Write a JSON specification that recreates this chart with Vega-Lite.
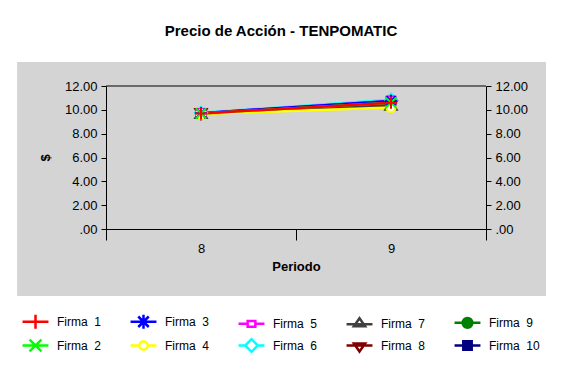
{
  "$schema": "https://vega.github.io/schema/vega-lite/v6.json",
  "autosize": {"type": "none"},
  "width": 380,
  "height": 143,
  "padding": {"left": 106, "top": 86, "right": 76, "bottom": 143},
  "background": "white",
  "config": {
    "view": {"stroke": null},
    "font": "Liberation Sans",
    "axis": {"labelFont": "Liberation Sans", "labelFontSize": 13, "labelColor": "black", "titleFont": "Liberation Sans", "titleFontSize": 13, "titleColor": "black", "titleFontWeight": "bold", "domainColor": "black", "tickColor": "black", "grid": false},
    "legend": {"zindex": 1, "orient": "none", "legendX": -79, "legendY": 227, "columns": 5, "gridAlign": "all", "columnPadding": 17, "rowPadding": 0, "padding": 0,
      "symbolSize": 196, "symbolStrokeWidth": 2.5, "labelOffset": 13, "labelFont": "Liberation Sans", "labelFontSize": 12, "labelColor": "black"}
  },
  "title": {"text": "Precio de Acción - TENPOMATIC", "frame": "group", "anchor": "middle", "offset": 23, "dx": -15, "fontSize": 15, "font": "Liberation Sans", "fontWeight": "bold", "color": "black"},
  "datasets": {
    "precios": [
      {"firma": 10, "periodo": 8, "precio": 9.7}, {"firma": 10, "periodo": 9, "precio": 10.7},
      {"firma": 9, "periodo": 8, "precio": 9.7}, {"firma": 9, "periodo": 9, "precio": 10.55},
      {"firma": 8, "periodo": 8, "precio": 9.68}, {"firma": 8, "periodo": 9, "precio": 10.35},
      {"firma": 7, "periodo": 8, "precio": 9.7}, {"firma": 7, "periodo": 9, "precio": 10.4},
      {"firma": 6, "periodo": 8, "precio": 9.75}, {"firma": 6, "periodo": 9, "precio": 10.85},
      {"firma": 5, "periodo": 8, "precio": 9.72}, {"firma": 5, "periodo": 9, "precio": 10.75},
      {"firma": 4, "periodo": 8, "precio": 9.65}, {"firma": 4, "periodo": 9, "precio": 10.2},
      {"firma": 3, "periodo": 8, "precio": 9.72}, {"firma": 3, "periodo": 9, "precio": 10.75},
      {"firma": 2, "periodo": 8, "precio": 9.7}, {"firma": 2, "periodo": 9, "precio": 10.6},
      {"firma": 1, "periodo": 8, "precio": 9.7}, {"firma": 1, "periodo": 9, "precio": 10.6}
    ]
  },
  "resolve": {"axis": {"x": "independent", "y": "independent"}, "legend": {"stroke": "independent", "fill": "independent", "shape": "independent"}, "scale": {"shape": "independent"}},
  "layer": [
    {
      "data": {"values": [{}]},
      "mark": {"type": "rect", "fill": "#d4d4d4", "clip": false},
      "encoding": {
        "x": {"datum": 7.032, "type": "quantitative", "scale": {"domain": [7.5, 9.5], "nice": false, "zero": false},
          "axis": {"zindex": 1, "values": [7.5, 8, 8.5, 9, 9.5], "tickSize": 11, "labelPadding": 2, "labelFlush": false, "labelOverlap": false,
            "tickOpacity": {"condition": {"test": "datum.value == 8 || datum.value == 9", "value": 0}, "value": 1},
            "labelExpr": "datum.value == 8 ? '8' : datum.value == 9 ? '9' : ''", "title": "Periodo", "titlePadding": 5}},
        "x2": {"datum": 9.816},
        "y": {"datum": -5.62, "type": "quantitative", "scale": {"domain": [0, 12], "nice": false, "zero": false},
          "axis": {"zindex": 1, "orient": "left", "values": [0, 2, 4, 6, 8, 10, 12], "tickSize": 5, "labelPadding": 4,
            "labelExpr": "datum.value == 0 ? '.00' : format(datum.value, '.2f')", "title": "$", "titlePadding": 12}},
        "y2": {"datum": 14.01}
      }
    },
    {
      "data": {"values": [{}]},
      "mark": {"type": "rule", "color": "black", "strokeWidth": 1},
      "encoding": {
        "x": {"datum": 7.5, "type": "quantitative", "scale": {"domain": [7.5, 9.5], "nice": false, "zero": false}, "axis": null},
        "x2": {"datum": 9.5},
        "y": {"datum": 12, "type": "quantitative", "scale": {"domain": [0, 12], "nice": false, "zero": false}, "axis": null}
      }
    },
    {
      "data": {"name": "precios"},
      "mark": {"type": "line", "strokeWidth": 2.5},
      "encoding": {
        "x": {"field": "periodo", "type": "quantitative", "scale": {"domain": [7.5, 9.5], "nice": false, "zero": false}, "axis": null},
        "y": {"field": "precio", "type": "quantitative", "scale": {"domain": [0, 12], "nice": false, "zero": false},
          "axis": {"zindex": 1, "orient": "right", "values": [0, 2, 4, 6, 8, 10, 12], "tickSize": 5, "labelPadding": 4,
            "labelExpr": "datum.value == 0 ? '.00' : format(datum.value, '.2f')", "title": null}},
        "stroke": {"field": "firma", "type": "nominal", "legend": null,
          "scale": {"domain": [1, 2, 3, 4, 5, 6, 7, 8, 9, 10], "range": ["#ff0000", "#00ff00", "#0000ff", "#ffff00", "#ff00ff", "#00ffff", "#404040", "#800000", "#008000", "#000080"]}}
      }
    },
    {
      "data": {"name": "precios"},
      "mark": {"type": "point", "size": 150, "strokeWidth": 2, "opacity": 1},
      "encoding": {
        "x": {"field": "periodo", "type": "quantitative", "scale": {"domain": [7.5, 9.5], "nice": false, "zero": false}, "axis": null},
        "y": {"field": "precio", "type": "quantitative", "scale": {"domain": [0, 12], "nice": false, "zero": false}, "axis": null},
        "stroke": {"field": "firma", "type": "nominal", "legend": null,
          "scale": {"domain": [1, 2, 3, 4, 5, 6, 7, 8, 9, 10], "range": ["#ff0000", "#00ff00", "#0000ff", "#ffff00", "#ff00ff", "#00ffff", "#404040", "#800000", "#008000", "#000080"]}},
        "fill": {"field": "firma", "type": "nominal", "legend": null,
          "scale": {"domain": [1, 2, 3, 4, 5, 6, 7, 8, 9, 10], "range": ["transparent", "transparent", "transparent", "white", "white", "white", "white", "white", "#008000", "#000080"]}},
        "shape": {"field": "firma", "type": "nominal", "legend": null,
          "scale": {"domain": [1, 2, 3, 4, 5, 6, 7, 8, 9, 10], "range": ["M-1,0H1M0,-1V1", "M-0.85,-0.85L0.85,0.85M-0.85,0.85L0.85,-0.85", "M-1,0H1M0,-1V1M-0.75,-0.75L0.75,0.75M-0.75,0.75L0.75,-0.75", "M-0.75,0A0.75,0.75,0,1,1,0.75,0A0.75,0.75,0,1,1,-0.75,0Z", "M-0.7,-0.7H0.7V0.7H-0.7Z", "M0,-1L1,0L0,1L-1,0Z", "M0,-0.9L0.95,0.75H-0.95Z", "M0,0.9L0.95,-0.75H-0.95Z", "M-0.75,0A0.75,0.75,0,1,1,0.75,0A0.75,0.75,0,1,1,-0.75,0Z", "M-0.7,-0.7H0.7V0.7H-0.7Z"]}}
      }
    },
    {
      "data": {"name": "precios"},
      "transform": [{"filter": "datum.periodo > 100"}],
      "mark": {"type": "point", "size": 196, "strokeWidth": 2.5, "opacity": 1},
      "encoding": {
        "x": {"field": "periodo", "type": "quantitative", "scale": {"domain": [7.5, 9.5], "nice": false, "zero": false}, "axis": null},
        "y": {"field": "precio", "type": "quantitative", "scale": {"domain": [0, 12], "nice": false, "zero": false}, "axis": null},
        "stroke": {"field": "firma", "type": "nominal",
          "scale": {"domain": [1, 2, 3, 4, 5, 6, 7, 8, 9, 10], "range": ["#ff0000", "#00ff00", "#0000ff", "#ffff00", "#ff00ff", "#00ffff", "#404040", "#800000", "#008000", "#000080"]},
          "legend": {"title": null, "labelExpr": "'Firma\u00a0 ' + datum.label"}},
        "fill": {"field": "firma", "type": "nominal",
          "scale": {"domain": [1, 2, 3, 4, 5, 6, 7, 8, 9, 10], "range": ["transparent", "transparent", "transparent", "white", "white", "white", "white", "white", "#008000", "#000080"]},
          "legend": {"title": null, "labelExpr": "'Firma\u00a0 ' + datum.label"}},
        "shape": {"field": "firma", "type": "nominal",
          "scale": {"domain": [1, 2, 3, 4, 5, 6, 7, 8, 9, 10], "range": ["M-1.85,0H1.85M0,-1V1", "M-1.85,0H1.85M-0.85,-0.85L0.85,0.85M-0.85,0.85L0.85,-0.85", "M-1.85,0H1.85M0,-1V1M-0.75,-0.75L0.75,0.75M-0.75,0.75L0.75,-0.75", "M-1.85,0H-0.6M0.6,0H1.85M-0.6,0A0.6,0.6,0,1,1,0.6,0A0.6,0.6,0,1,1,-0.6,0Z", "M-1.85,0H-0.55M0.55,0H1.85M-0.55,-0.4H0.55V0.4H-0.55Z", "M-1.85,0H-0.9M0.9,0H1.85M0,-0.9L0.9,0L0,0.9L-0.9,0Z", "M-1.85,0H1.85M0,-0.85L0.8,0.3H-0.8Z", "M-1.85,0H1.85M0,0.85L0.8,-0.3H-0.8Z", "M-1.85,0H1.85M-0.7,0A0.7,0.7,0,1,1,0.7,0A0.7,0.7,0,1,1,-0.7,0Z", "M-1.85,0H1.85M-0.6,-0.6H0.6V0.6H-0.6Z"]},
          "legend": {"title": null, "labelExpr": "'Firma\u00a0 ' + datum.label"}}
      }
    }
  ]
}
